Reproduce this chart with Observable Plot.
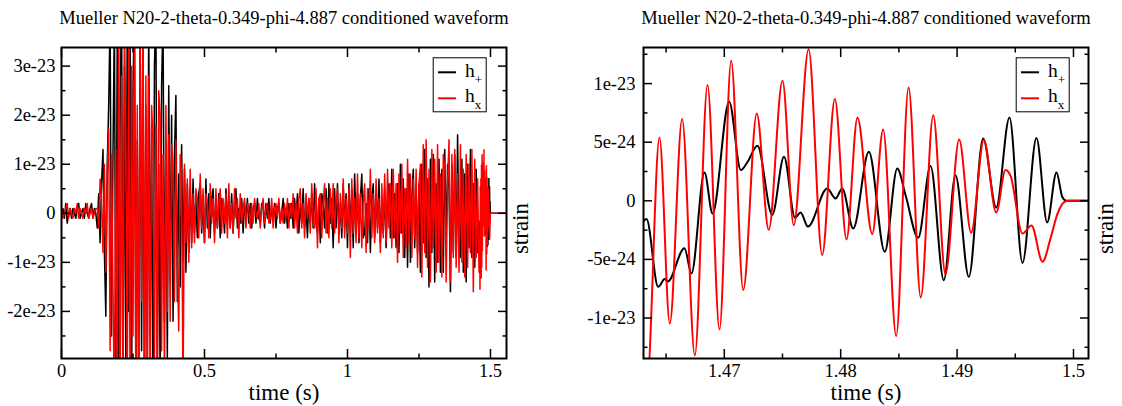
<!DOCTYPE html>
<html>
<head>
<meta charset="utf-8">
<script src="https://cdn.jsdelivr.net/npm/d3@7"></script>
<script src="https://cdn.jsdelivr.net/npm/@observablehq/plot@0.6"></script>
<style>
  html, body { margin: 0; padding: 0; background: #fff; overflow: hidden; }
  #wrap { position: relative; width: 1122px; height: 406px; font-family: "Liberation Serif", "DejaVu Serif", serif; }
  .panel { position: absolute; top: 0; }
  #overlay { position: absolute; left: 0; top: 0; pointer-events: none; }
</style>
</head>
<body>
<div id="wrap"></div>
<script>
// ---------------- text ----------------
const TITLE = "Mueller N20-2-theta-0.349-phi-4.887 conditioned waveform";
const X_LABEL = "time (s)";
const Y_LABEL = "strain";
const SERIES_NAMES = ["h", "h"];
const SERIES_SUBS = ["+", "x"];
const SERIES_COLORS = ["#000000", "#ff0000"];
const FONT = "'Liberation Serif', 'DejaVu Serif', serif";

// ---------------- data (strain in units of 1e-24) ----------------
const UNIT = 1e-24;
const DT = 0.005;   // sample spacing of the coarse (full-length) series, s

// h_+ , full length 0 .. 1.46 s
const plusCoarse = [
  0, 1, -1, 2, -2, 0, 1, -1, 1, 0, -1, 1, 2, -1, 0, 1, -1, 2, 0, -1, 1, 2, -1, 1, 0,
  -3, 4, -6,
  6, 13, -8, -21, 10,
  22, 40, -25, 12,
  40, -35, 38, -40, 20, 45, -38, 30, -32, 42, -20, 36, -40, 25, 44, -36, 15, -38, 40, -28, 35, -40, 22, -30,
  40, -25, 18, -38, 30, 42, -32, 10, -35, 26, 40, -22, 15, -30,
  26, -14, 20, -22, 12, 24, -18, 8, -15, 14,
  -10, 9, -12, 6,
  -8, 5, -6, 7, -4, 3, -5, 4,
  6, -4, 2, -6, 7, -3, 4, -5, 3, 5, -4, 2, -3, 4, -5, 3, 1, -4, 5, -2, 3, -3, 4, -4, 2, 5, -3, 1, -2, 3, -4, 2, -1, 3,
  -2, 2, -3, 1, 2, -2, 3, -1, -2, 2, 1, -3, 2, -1, 3, -2, 1, -1, 2, -3, 1, 2, -2, 0, 3, -2, 1, -3, 2, -1,
  2, -3, 3, -1, 4, -4, 2, -2, 5, -3, 1, -5, 3, -2, 4, -3, 6, -2, -4, 3, -6, 4, 2, -3, 5,
  -4, 6, -2, 3, -7, 5, -3, 6, -4, 2, -5, 6, -3, 4, -7,
  6, -4, 5, -7, 8, -3, 4, -6, 3, 8, -5, -4, 2, -6, 5, -8, 3, 6, -5, 4, -3, 7, -6, 2, -4, 5, -7, 3, 6, -5,
  9, -5, 4, -7, 6, -8, 10, -4, 7, -9, 5, -11, 8, -10, 3, 9, -7, 5, -8, 6,
  -12, 10, -6, 13, -9, 7, -15, 11, -8, 12, -14, 6, -10, 11, -12, 9, -12, 13, -6, 10,
  5, -16, 10, -8, 12, -9, 16, -7, -9, 11, -12, 8, -14, 10, -7, 13, -9, 6, -11, 9, -8, -4
];
// h_x , full length 0 .. 1.46 s
const crossCoarse = [
  1, -1, 0, 1, 2, -1, 1, 0, -1, 1, 0, 2, -1, 1, 0, -1, 1, 0, 2, -1, 0, 1, -1, 0, 1,
  1, -3, 7,
  3, -8, 10, -12, 8,
  17, -28, 12, -15,
  -40, 13, -40, 44, -38, 28, -40, 40, 15, -36, 38, -42, 30, -25, 40, -38, 22, -40, 36, -18, 42, -35, 28, -40,
  28, -40, 22, 15, -30, 18, -38, 25, 20, -28, 12, -35, 22, -20,
  16, -22, 14, 10, -18, 15, -10, -24, 12, 8,
  -38, 10, -6, 7,
  -10, 9, -7, 4, -6, 5, 3, -5,
  8, -3, 5, -6, 4, 2, -5, 6, -2, 3, -6, 5, -3, 2, 5, -4, 3, -2, 4, -5, 6, -3, 2, -4, 5, -1, 3, -5, 4, -2, 1, 3, -3, 2,
  1, -3, 2, -2, 3, 0, -1, 2, -3, 1, 3, -2, 1, 2, -2, -1, 3, -3, 1, 2, -1, 3, -2, 1, -2, 2, -1, 3, -3, 2,
  -1, 4, -3, 2, -4, 3, 5, -3, 2, -5, 4, -1, 3, -4, 6, -2, -3, 5, -7, 3, 4, -5, 2, 6, -4,
  3, -5, 5, -3, 6, -4, 2, 5, -6, 4, -3, 7, -5, 3, -4,
  5, -9, 7, -4, 3, -6, 8, -5, 4, -7, 2, 6, -8, 5, -3, 9, -5, 4, -6, 7, -4, 3, -8, 6, -5, 8, -6, 9, -3, 6,
  -7, 9, -5, 6, -10, 8, -4, 10, -9, 5, -7, 11, -6, 8, -9, 7, -5, 9, -11, 6,
  10, -13, 14, -8, 15, -11, 9, -14, 13, -7, 11, -12, 14, -10, 8, -13, 12, 9, -14, 6,
  15, -14, 12, -9, 13, -11, 8, -12, 14, -10, 9, -13, 12, -11, 10, -8, 13, -16, 11, -9, 7, -12
];

// final ~40 ms (turning points)
const plusFineT = [1.46306, 1.46332, 1.46432, 1.46489, 1.46515, 1.46658, 1.46718, 1.46830, 1.46899, 1.47042,
  1.47142, 1.47197, 1.47285, 1.47412, 1.47513, 1.47608, 1.47655, 1.47719, 1.47884, 1.47956,
  1.48013, 1.48108, 1.48242, 1.48379, 1.48486, 1.48557, 1.48666, 1.48772, 1.48886, 1.48986,
  1.49101, 1.49224, 1.49336, 1.49450, 1.49562, 1.49682, 1.49774, 1.49854, 1.49905, 1.49940];
const plusFineV = [-1.75, -1.56, -7.34, -6.68, -6.88, -4.04, -6.2, 2.42, -1.08, 8.45,
  2.62, 3.27, 4.69, -1.19, 3.75, -1.45, -1.0, -2.2, 1.05, 0.2,
  1.05, -2.36, 4.18, -4.35, 2.76, 0.49, -3.16, 2.96, -6.77, 2.19,
  -6.48, 5.32, -0.57, 7.11, -5.3, 5.35, -1.85, 2.42, 0.3, 0];
const crossFineT = [1.46289, 1.46336, 1.46443, 1.46532, 1.46638, 1.46747, 1.46856, 1.46959, 1.47059, 1.47163,
  1.47279, 1.47382, 1.47500, 1.47597, 1.47724, 1.47841, 1.47950, 1.48050, 1.48144, 1.48271,
  1.48365, 1.48477, 1.48583, 1.48688, 1.48795, 1.48900, 1.49018, 1.49121, 1.49230, 1.49336,
  1.49416, 1.49459, 1.49562, 1.49639, 1.49734, 1.49803, 1.49863, 1.49923, 1.49957];
const crossFineV = [-12, -15.5, 5.40, -10.47, 6.97, -13.2, 9.87, -10.98, 11.95, -7.62,
  7.45, -2.47, 10.24, -2.08, 12.94, -4.63, 8.68, -3.30, 7.08, -2.84,
  6.08, -11.54, 9.67, -8.25, 7.31, -6.25, 5.23, -2.73, 5.18, -1.0,
  2.62, 2.13, -2.8, -2.1, -5.2, -3.2, -1.1, -0.1, 0];
// zero padding after the waveform ends
const tailT = [1.556];
const tailV = [0];

// ---------------- axes ----------------
const leftXDomain = [0, 1.556];
const leftYDomain = [-2.96e-23, 3.38e-23];
const leftXMajor = [0, 0.5, 1, 1.5];
const leftXLabels = ["0", "0.5", "1", "1.5"];
const leftXMinor = [0.25, 0.75, 1.25];
const leftYMajor = [-2e-23, -1e-23, 0, 1e-23, 2e-23, 3e-23];
const leftYLabels = ["-2e-23", "-1e-23", "0", "1e-23", "2e-23", "3e-23"];
const leftYMinor = [-2.5e-23, -1.5e-23, -0.5e-23, 0.5e-23, 1.5e-23, 2.5e-23];

const rightXDomain = [1.46306, 1.50129];
const rightYDomain = [-1.3455e-23, 1.308e-23];
const rightXMajor = [1.47, 1.48, 1.49, 1.5];
const rightXLabels = ["1.47", "1.48", "1.49", "1.5"];
const rightXMinor = [1.465, 1.475, 1.485, 1.495];
const rightYMajor = [-1e-23, -5e-24, 0, 5e-24, 1e-23];
const rightYLabels = ["-1e-23", "-5e-24", "0", "5e-24", "1e-23"];
const rightYMinor = [-1.25e-23, -7.5e-24, -2.5e-24, 2.5e-24, 7.5e-24, 1.25e-23];

// ---------------- tables ----------------
const rows = (ts, vs) => ts.map((t, i) => ({t, v: vs[i] * UNIT}));
const coarseRows = vs => vs.map((v, i) => ({t: i * DT, v: v * UNIT}));
const plusFine = rows(plusFineT, plusFineV).concat(rows(tailT, tailV));
const crossFine = rows(crossFineT, crossFineV).concat(rows(tailT, tailV));
const plusAll = coarseRows(plusCoarse).concat(plusFine);
const crossAll = coarseRows(crossCoarse).concat(crossFine);

const TICK_FONT = 18.5;

function panel(cfg) {
  const xFmt = new Map(cfg.xMajor.map((v, i) => [v, cfg.xLabels[i]]));
  const yFmt = new Map(cfg.yMajor.map((v, i) => [v, cfg.yLabels[i]]));
  const blank = () => "";
  const tk = {strokeWidth: 1.5, label: null};
  const svg = Plot.plot({
    width: cfg.width, height: 406,
    marginLeft: cfg.ml, marginRight: cfg.mr, marginTop: 47, marginBottom: 48,
    x: {domain: cfg.xDomain, label: null},
    y: {domain: cfg.yDomain, label: null},
    style: {fontFamily: FONT, fontSize: TICK_FONT + "px", color: "#000", background: "transparent", overflow: "visible"},
    marks: [
      Plot.line(cfg.plus, {x: "t", y: "v", stroke: SERIES_COLORS[0], strokeWidth: cfg.sw, curve: cfg.curve, clip: true}),
      Plot.line(cfg.cross, {x: "t", y: "v", stroke: SERIES_COLORS[1], strokeWidth: cfg.sw, curve: cfg.curve, clip: true}),
      Plot.axisX(cfg.xMajor, {...tk, anchor: "bottom", tickSize: -9, tickPadding: 14, tickFormat: d => xFmt.get(d)}),
      Plot.axisX(cfg.xMinor, {...tk, anchor: "bottom", tickSize: -4.5, tickFormat: blank}),
      Plot.axisX(cfg.xMajor, {...tk, anchor: "top", tickSize: -9, tickFormat: blank}),
      Plot.axisX(cfg.xMinor, {...tk, anchor: "top", tickSize: -4.5, tickFormat: blank}),
      Plot.axisY(cfg.yMajor, {...tk, anchor: "left", tickSize: -9, tickPadding: cfg.yPad, tickFormat: d => yFmt.get(d)}),
      Plot.axisY(cfg.yMinor, {...tk, anchor: "left", tickSize: -4.5, tickFormat: blank}),
      Plot.axisY(cfg.yMajor, {...tk, anchor: "right", tickSize: -9, tickFormat: blank}),
      Plot.axisY(cfg.yMinor, {...tk, anchor: "right", tickSize: -4.5, tickFormat: blank}),
      Plot.frame({stroke: "#000", strokeWidth: 2}),
      Plot.text([TITLE], {frameAnchor: "top", dy: -36.5, fontSize: 18.5, text: d => d}),
      Plot.text([X_LABEL], {frameAnchor: "bottom", dy: 41, fontSize: 23, text: d => d}),
      Plot.text([Y_LABEL], {frameAnchor: "right", dx: cfg.sdx, rotate: -90, fontSize: 23, text: d => d})
    ]
  });
  // tick labels at the reference's size
  const labelSet = new Set([...cfg.xLabels, ...cfg.yLabels]);
  d3.select(svg).selectAll("text")
    .filter(function () { return labelSet.has(this.textContent); })
    .attr("font-size", TICK_FONT).style("font-size", TICK_FONT + "px");
  return svg;
}

const wrap = document.getElementById("wrap");
const left = panel({
  width: 561, ml: 61, mr: 55, xDomain: leftXDomain, yDomain: leftYDomain,
  xMajor: leftXMajor, xLabels: leftXLabels, xMinor: leftXMinor,
  yMajor: leftYMajor, yLabels: leftYLabels, yMinor: leftYMinor,
  plus: plusAll, cross: crossAll, sw: 1.5, curve: "linear", yPad: 15, sdx: 14
});
left.classList.add("panel"); left.style.left = "0px";
wrap.appendChild(left);

const right = panel({
  width: 561, ml: 82, mr: 34, xDomain: rightXDomain, yDomain: rightYDomain,
  xMajor: rightXMajor, xLabels: rightXLabels, xMinor: rightXMinor,
  yMajor: rightYMajor, yLabels: rightYLabels, yMinor: rightYMinor,
  plus: plusFine, cross: crossFine, sw: 2, curve: "monotone-x", yPad: 17, sdx: 17
});
right.classList.add("panel"); right.style.left = "561px";
wrap.appendChild(right);

// legends
const ov = d3.select(wrap).append("svg").attr("id", "overlay").attr("width", 1122).attr("height", 406)
  .style("font-family", FONT);
[432.7, 1015.7].forEach(bx => {
  const g = ov.append("g").attr("transform", `translate(${bx},57.3)`);
  g.append("rect").attr("x", 0.5).attr("y", 0.5).attr("width", 53).attr("height", 54)
    .attr("fill", "#fff").attr("stroke", "#000").attr("stroke-width", 1);
  SERIES_NAMES.forEach((name, i) => {
    const ly = 15 + i * 26;
    g.append("line").attr("x1", 5.3).attr("x2", 23.3).attr("y1", ly).attr("y2", ly)
      .attr("stroke", SERIES_COLORS[i]).attr("stroke-width", 2);
    const t = g.append("text").attr("x", 32.3).attr("y", 19.4 + i * 25).attr("font-size", 19.5).attr("fill", "#000");
    t.append("tspan").text(name);
    t.append("tspan").attr("dy", 7).attr("font-size", 13).text(SERIES_SUBS[i]);
  });
});
</script>
</body>
</html>
